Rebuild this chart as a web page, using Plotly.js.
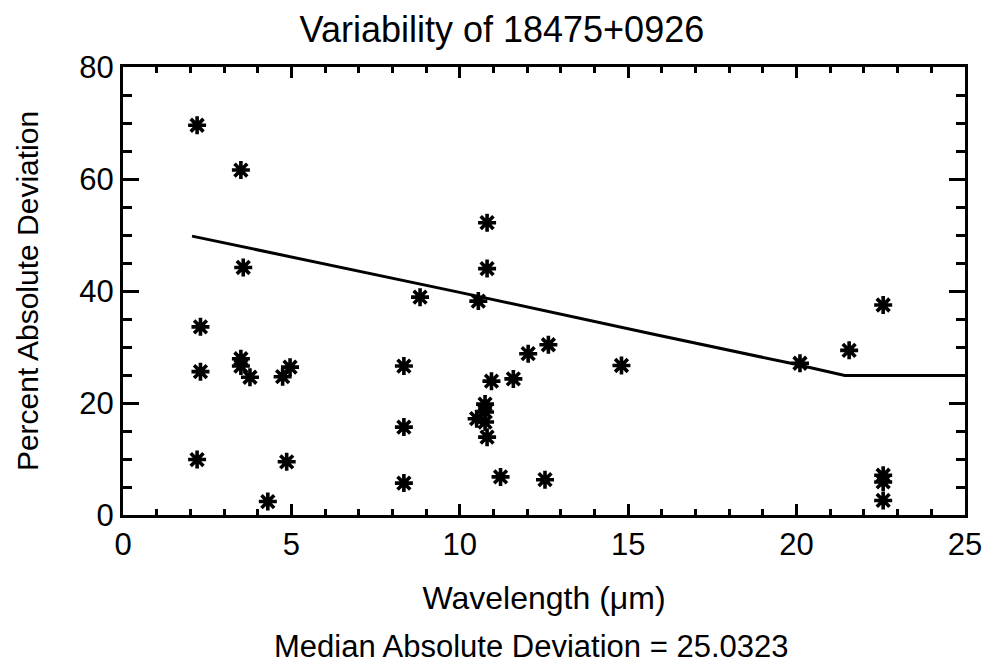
<!DOCTYPE html>
<html>
<head>
<meta charset="utf-8">
<script src="https://cdn.plot.ly/plotly-3.0.1.min.js"></script>
<style>html,body{margin:0;padding:0;background:#fff;}#chart{width:988px;height:663px;}</style>
</head>
<body>
<div id="chart"></div>
<script>
// Observed points: wavelength (µm) and percent absolute deviation
const wavelength = [2.2, 2.2, 2.3, 2.3, 3.5, 3.57, 3.5, 3.5, 3.77, 4.3, 4.74, 4.96, 4.86,
  8.34, 8.34, 8.34, 8.82, 10.55, 10.81, 10.81, 10.75, 10.75, 10.5, 10.75, 10.81, 10.94,
  11.21, 11.59, 12.03, 12.53, 12.63, 14.8, 20.1, 21.56, 22.57, 22.57, 22.57, 22.57];
const deviation = [69.6, 9.9, 33.6, 25.6, 61.6, 44.2, 27.9, 26.6, 24.6, 2.4, 24.7, 26.4, 9.5,
  26.6, 15.7, 5.7, 38.9, 38.2, 52.2, 44.0, 19.8, 18.4, 17.2, 16.6, 13.9, 23.9,
  6.8, 24.3, 28.8, 6.3, 30.4, 26.7, 27.1, 29.4, 37.5, 7.1, 5.9, 2.6];
// Trend line drawn over the points
const fitX = [2.05, 9.96, 15.65, 19.9, 21.43, 25];
const fitY = [49.8, 39.8, 32.4, 27.0, 24.9, 24.9];
const titleText = 'Variability of 18475+0926';
const xTitle = 'Wavelength (\u03bcm)';
const yTitle = 'Percent Absolute Deviation';
const noteText = 'Median Absolute Deviation = 25.0323';

const font = 'Liberation Sans, Arial, sans-serif';
const traces = [
  {x: fitX, y: fitY, mode: 'lines', type: 'scatter',
   line: {color: '#000', width: 3}, hoverinfo: 'skip'},
  {x: wavelength, y: deviation, mode: 'markers', type: 'scatter',
   marker: {symbol: 'asterisk-open', size: 15, color: '#000', line: {color: '#000', width: 3.6}}}
];
const axisCommon = {
  showgrid: false, zeroline: false, showline: true, linecolor: '#000', linewidth: 3,
  mirror: 'allticks', ticks: 'inside', tickcolor: '#000', tickwidth: 3,
  tickfont: {family: font, size: 31, color: '#000'}
};
const layout = {
  width: 988, height: 663,
  margin: {l: 123, r: 23, t: 67, b: 148},
  paper_bgcolor: '#fff', plot_bgcolor: '#fff',
  showlegend: false,
  title: {text: titleText, font: {family: font, size: 36, color: '#000'},
          x: 0.508, xanchor: 'center', y: 0.955, yanchor: 'middle'},
  xaxis: Object.assign({}, axisCommon, {
    range: [0, 25], dtick: 5, tick0: 0, ticklen: 11,
    minor: {dtick: 1, ticks: 'inside', ticklen: 6, tickwidth: 3, tickcolor: '#000'},
    title: {text: xTitle, font: {family: font, size: 32, color: '#000'}, standoff: 26}
  }),
  yaxis: Object.assign({}, axisCommon, {
    range: [0, 80], dtick: 20, tick0: 0, ticklen: 16,
    minor: {dtick: 5, ticks: 'inside', ticklen: 9, tickwidth: 3, tickcolor: '#000'},
    title: {text: yTitle, font: {family: font, size: 30, color: '#000'}, standoff: 32}
  }),
  annotations: [{
    text: noteText, xref: 'paper', yref: 'paper', x: 0.485, y: -0.338,
    xanchor: 'center', yanchor: 'bottom', showarrow: false,
    font: {family: font, size: 31, color: '#000'}
  }]
};
Plotly.newPlot('chart', traces, layout, {displayModeBar: false, staticPlot: true});
</script>
</body>
</html>
